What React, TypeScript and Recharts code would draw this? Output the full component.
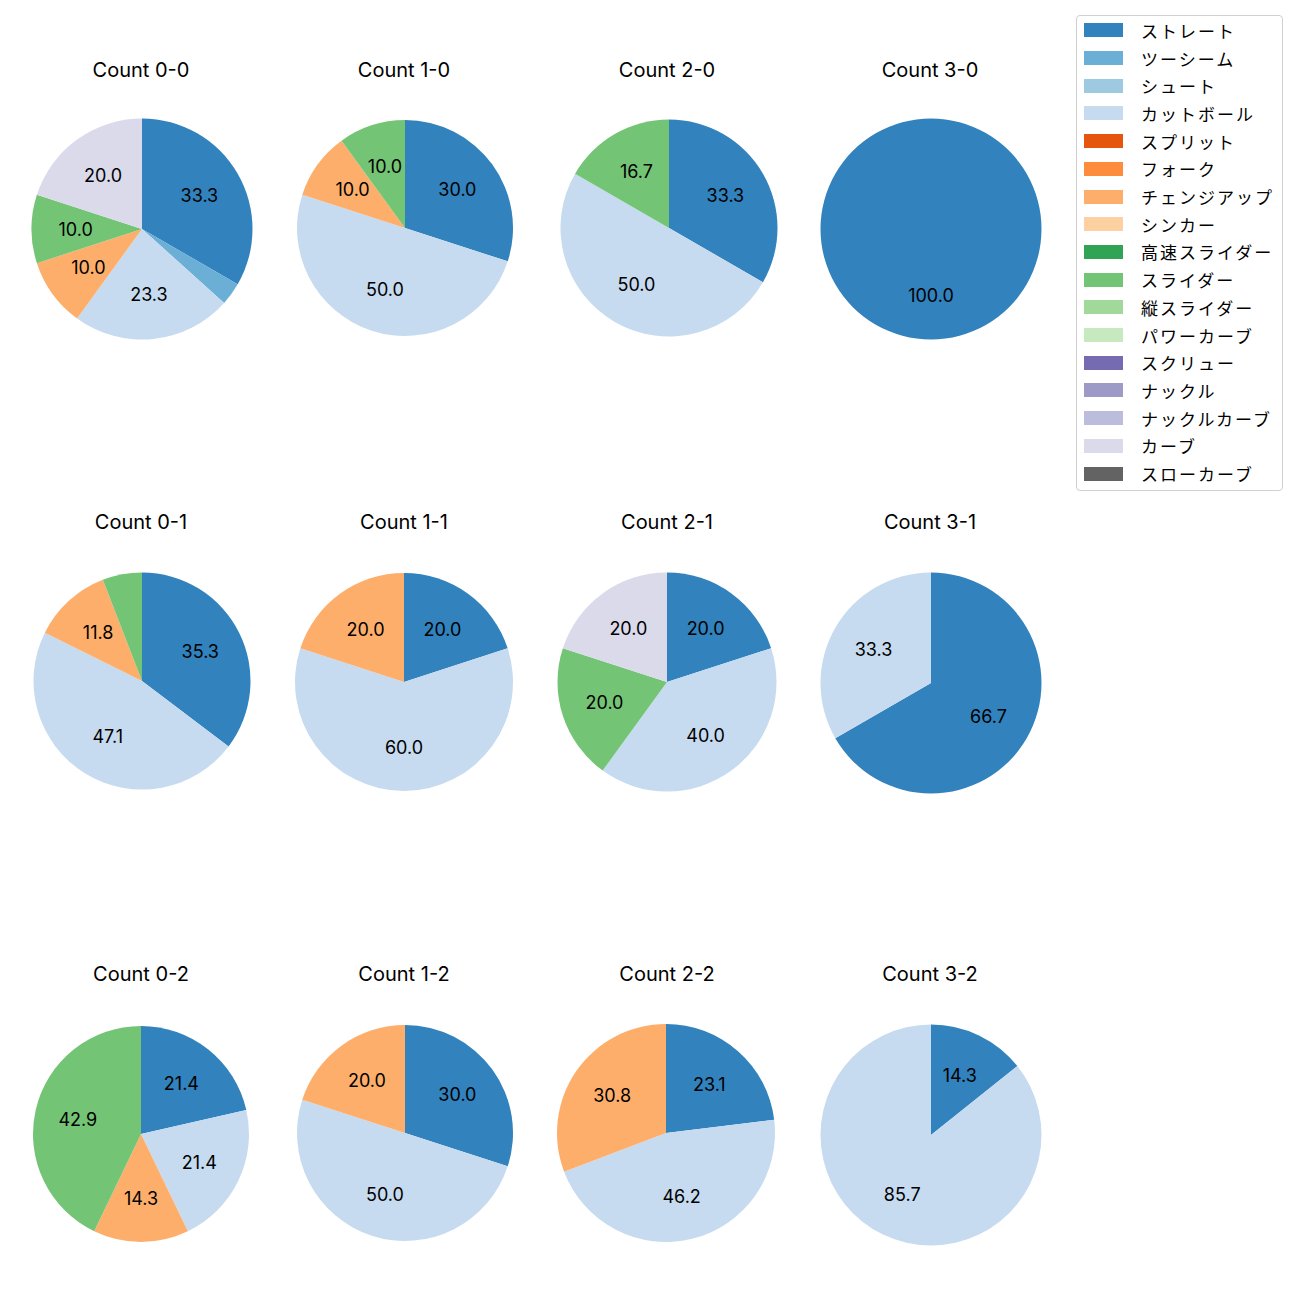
import { PieChart, Pie, Cell } from 'recharts';

const pitchTypes = [
  'ストレート', 'ツーシーム', 'シュート', 'カットボール', 'スプリット', 'フォーク',
  'チェンジアップ', 'シンカー', '高速スライダー', 'スライダー', '縦スライダー',
  'パワーカーブ', 'スクリュー', 'ナックル', 'ナックルカーブ', 'カーブ', 'スローカーブ',
];

const pitchColors = [
  '#3182bd', '#6baed6', '#9ecae1', '#c6dbef', '#e6550d', '#fd8d3c',
  '#fdae6b', '#fdd0a2', '#31a354', '#74c476', '#a1d99b',
  '#c7e9c0', '#756bb1', '#9e9ac8', '#bcbddc', '#dadaeb', '#636363',
];

// pitch counts per ball-strike count, in pitchTypes order
const count00 = [10, 1, 0, 7, 0, 0, 3, 0, 0, 3, 0, 0, 0, 0, 0, 6, 0];
const count10 = [3, 0, 0, 5, 0, 0, 1, 0, 0, 1, 0, 0, 0, 0, 0, 0, 0];
const count20 = [2, 0, 0, 3, 0, 0, 0, 0, 0, 1, 0, 0, 0, 0, 0, 0, 0];
const count30 = [1, 0, 0, 0, 0, 0, 0, 0, 0, 0, 0, 0, 0, 0, 0, 0, 0];
const count01 = [6, 0, 0, 8, 0, 0, 2, 0, 0, 1, 0, 0, 0, 0, 0, 0, 0];
const count11 = [1, 0, 0, 3, 0, 0, 1, 0, 0, 0, 0, 0, 0, 0, 0, 0, 0];
const count21 = [1, 0, 0, 2, 0, 0, 0, 0, 0, 1, 0, 0, 0, 0, 0, 1, 0];
const count31 = [2, 0, 0, 1, 0, 0, 0, 0, 0, 0, 0, 0, 0, 0, 0, 0, 0];
const count02 = [3, 0, 0, 3, 0, 0, 2, 0, 0, 6, 0, 0, 0, 0, 0, 0, 0];
const count12 = [3, 0, 0, 5, 0, 0, 2, 0, 0, 0, 0, 0, 0, 0, 0, 0, 0];
const count22 = [3, 0, 0, 6, 0, 0, 4, 0, 0, 0, 0, 0, 0, 0, 0, 0, 0];
const count32 = [1, 0, 0, 6, 0, 0, 0, 0, 0, 0, 0, 0, 0, 0, 0, 0, 0];

const panelTitles = [
  'Count 0-0', 'Count 1-0', 'Count 2-0', 'Count 3-0',
  'Count 0-1', 'Count 1-1', 'Count 2-1', 'Count 3-1',
  'Count 0-2', 'Count 1-2', 'Count 2-2', 'Count 3-2',
];
const panelCounts = [
  count00, count10, count20, count30,
  count01, count11, count21, count31,
  count02, count12, count22, count32,
];

// pie center x, center y, radius for each panel (layout only)
const panelGeom = [
  [141.5, 228.5, 110.5], [405, 227.5, 108], [669, 228, 108.5], [930.5, 229, 110.5],
  [141.5, 680.5, 108.5], [404, 682, 109], [666.5, 682, 109.5], [930.5, 682.5, 110.5],
  [141, 1134, 108], [405, 1133, 108], [666, 1133, 109], [930.5, 1134.5, 110.5],
];
const colX = [141, 404, 667, 930];
const titleY = [69, 521, 973];
const LATIN = 'Inter, "Noto Sans CJK JP", sans-serif';
const CJK = '"Noto Sans CJK JP", sans-serif';
const RAD = Math.PI / 180;

function renderLabel(props: any) {
  const { cx, cy, midAngle, outerRadius, percent } = props;
  if (percent < 0.08) return null;
  const r = outerRadius * 0.6;
  const x = cx + r * Math.cos(-midAngle * RAD);
  const y = cy + r * Math.sin(-midAngle * RAD);
  return (
    <text x={x} y={y} textAnchor="middle" dominantBaseline="central" fill="#000" fontSize={18} fontFamily={LATIN}>
      {(percent * 100).toFixed(1)}
    </text>
  );
}

function PiePanel({ title, counts, index }: { title: string; counts: number[]; index: number }) {
  const data = counts
    .map((v, i) => ({ name: pitchTypes[i], value: v, color: pitchColors[i] }))
    .filter((d) => d.value > 0);
  const [pcx, pcy, pr] = panelGeom[index];
  const col = index % 4;
  const row = Math.floor(index / 4);
  const size = 240;
  return (
    <>
      <div
        style={{
          position: 'absolute', left: colX[col] - 100, width: 200, top: titleY[row] - 12,
          textAlign: 'center', fontSize: 20, lineHeight: '26px', fontFamily: LATIN, color: '#000',
        }}
      >
        {title}
      </div>
      <div style={{ position: 'absolute', left: pcx - size / 2, top: pcy - size / 2 }}>
        <PieChart width={size} height={size}>
          <Pie
            data={data}
            dataKey="value"
            nameKey="name"
            cx="50%"
            cy="50%"
            outerRadius={pr}
            startAngle={90}
            endAngle={-270}
            stroke="none"
            label={renderLabel}
            labelLine={false}
            isAnimationActive={false}
          >
            {data.map((d) => (
              <Cell key={d.name} fill={d.color} />
            ))}
          </Pie>
        </PieChart>
      </div>
    </>
  );
}

export default function App() {
  return (
    <div style={{ position: 'absolute', left: 0, top: 0, width: 1300, height: 1300, background: '#fff' }}>
      {panelTitles.map((t, i) => (
        <PiePanel key={t} title={t} counts={panelCounts[i]} index={i} />
      ))}
      <div
        style={{
          position: 'absolute', left: 1076, top: 15, width: 205, height: 474,
          border: '1px solid #d0d0d0', borderRadius: 4, background: '#fff', fontFamily: CJK,
        }}
      >
        {pitchTypes.map((p, i) => (
          <div key={p} style={{ position: 'absolute', left: 0, top: 14.3 + i * 27.7 - 13, height: 26, display: 'flex', alignItems: 'center' }}>
            <div style={{ marginLeft: 7, width: 39, height: 14, background: pitchColors[i] }} />
            <div style={{ marginLeft: 18, fontSize: 17, color: '#000', whiteSpace: 'nowrap', letterSpacing: 2 }}>{p}</div>
          </div>
        ))}
      </div>
    </div>
  );
}
